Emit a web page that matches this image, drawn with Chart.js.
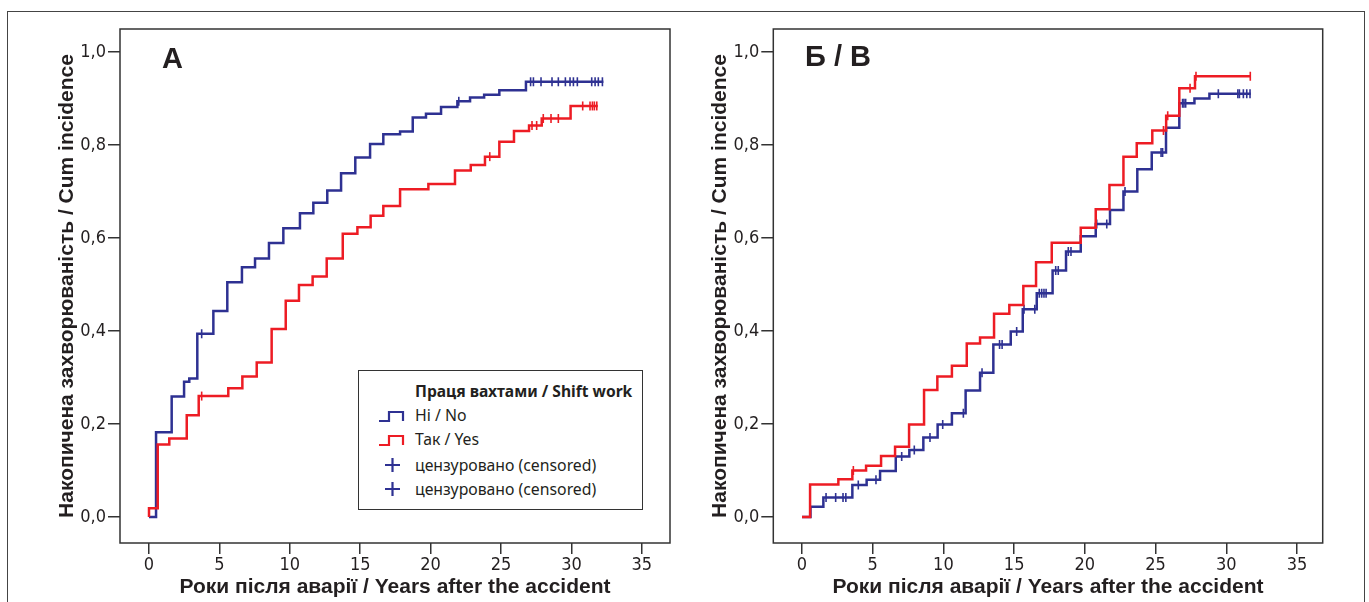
<!DOCTYPE html>
<html>
<head>
<meta charset="utf-8">
<script src="https://cdn.jsdelivr.net/npm/chart.js@4.4.1/dist/chart.umd.min.js"></script>
<style>
  html, body { margin: 0; padding: 0; background: #fff; }
  body { width: 1369px; height: 602px; position: relative; overflow: hidden; }
  .frame { position: absolute; left: 7px; top: 11px; width: 1358px; height: 700px; border: 1.5px solid #444; box-sizing: border-box; }
  canvas { position: absolute; top: 0; }
  .letter { position: absolute; font: bold 29px "Liberation Sans", Arial, sans-serif; color: #231f20; }
  .legend { position: absolute; left: 358px; top: 370px; width: 285px; height: 140px; border: 1.5px solid #333; box-sizing: border-box; background: #fff; font: 15.8px "Noto Sans", "Open Sans", sans-serif; color: #231f20; }
  .legend .row { position: absolute; left: 0; height: 22px; line-height: 22px; white-space: nowrap; }
  .legend .row span { position: absolute; left: 56px; }
  .legend .row svg { position: absolute; left: 18px; top: 3px; }
  .legend .title { font-weight: bold; font-size: 15.6px; }
</style>
</head>
<body>
<div class="frame"></div>
<canvas id="chartA" width="685" height="602" style="left:0;width:685px;height:602px"></canvas>
<canvas id="chartB" width="684" height="602" style="left:685px;width:684px;height:602px"></canvas>
<div class="letter" style="left:162px;top:42px">А</div>
<div class="letter" style="left:805px;top:40px">Б / В</div>
<div class="legend">
  <div class="row title" style="top:9px"><span>Праця вахтами / Shift work</span></div>
  <div class="row" style="top:33px">
    <svg width="30" height="16"><path d="M2 14 H12 V5 H26 V14" fill="none" stroke="#2e3192" stroke-width="2.2"/></svg>
    <span>Ні / No</span></div>
  <div class="row" style="top:57px">
    <svg width="30" height="16"><path d="M2 14 H12 V5 H26 V14" fill="none" stroke="#ed1c24" stroke-width="2.2"/></svg>
    <span>Так / Yes</span></div>
  <div class="row" style="top:83px">
    <svg width="30" height="16"><path d="M8 8 H23 M15.5 1 V15" fill="none" stroke="#2e3192" stroke-width="2.2"/></svg>
    <span>цензуровано (censored)</span></div>
  <div class="row" style="top:107px">
    <svg width="30" height="16"><path d="M8 8 H23 M15.5 1 V15" fill="none" stroke="#2e3192" stroke-width="2.2"/></svg>
    <span>цензуровано (censored)</span></div>
</div>
<script>
// panel A: shift work, cumulative incidence
const aNoTimes = [0, 0.5, 1.61, 2.49, 2.86, 3.43, 4.57, 5.56, 6.6, 7.53, 8.52, 9.54, 10.72, 11.67, 12.66, 13.64, 14.65, 15.7, 16.64, 17.83, 18.73, 19.67, 20.74, 21.9, 22.8, 23.8, 24.88, 26.77, 32.27];
const aNoVals = [0, 0.182, 0.259, 0.291, 0.298, 0.394, 0.443, 0.505, 0.537, 0.556, 0.589, 0.621, 0.653, 0.676, 0.702, 0.739, 0.773, 0.802, 0.823, 0.829, 0.859, 0.867, 0.882, 0.894, 0.902, 0.908, 0.918, 0.936, 0.936];
const aNoCensored = [3.74, 22.0, 27.1, 27.3, 27.84, 28.62, 29.07, 29.57, 29.9, 30.14, 30.42, 31.44, 31.68, 31.91, 32.2];

const aYesTimes = [0, 0, 0.62, 1.44, 2.68, 3.53, 5.63, 6.63, 7.65, 8.71, 9.71, 10.65, 11.62, 12.62, 13.76, 14.8, 15.74, 16.64, 17.83, 19.84, 21.73, 22.85, 23.86, 24.88, 25.92, 26.99, 27.89, 29.94, 31.87];
const aYesVals = [0, 0.019, 0.156, 0.169, 0.219, 0.26, 0.277, 0.302, 0.332, 0.404, 0.465, 0.499, 0.517, 0.556, 0.609, 0.623, 0.648, 0.669, 0.705, 0.716, 0.745, 0.757, 0.775, 0.807, 0.83, 0.842, 0.857, 0.884, 0.884];
const aYesCensored = [3.74, 24.2, 27.2, 27.53, 28.0, 28.55, 29.07, 30.8, 31.32, 31.49, 31.63, 31.8];

// panel Б / В
const bNoTimes = [0, 0.6, 1.51, 3.56, 4.57, 5.52, 6.63, 7.59, 8.58, 9.59, 10.6, 11.57, 12.59, 13.53, 14.76, 15.61, 16.6, 17.72, 18.67, 19.71, 20.77, 21.78, 22.73, 23.71, 24.73, 25.74, 26.68, 27.75, 28.81, 31.73];
const bNoVals = [0, 0.022, 0.042, 0.069, 0.08, 0.099, 0.13, 0.144, 0.171, 0.199, 0.223, 0.272, 0.31, 0.371, 0.399, 0.447, 0.481, 0.53, 0.571, 0.604, 0.63, 0.66, 0.7, 0.748, 0.784, 0.837, 0.89, 0.9, 0.91, 0.91];
const bNoCensored = [1.7, 2.38, 2.9, 3.1, 3.98, 5.23, 7.05, 7.94, 9.05, 9.95, 11.41, 12.73, 13.97, 14.15, 15.18, 15.7, 16.46, 16.78, 16.95, 17.11, 17.26, 17.94, 18.12, 18.83, 19.02, 20.84, 21.55, 22.84, 25.39, 25.5, 26.91, 27.01, 27.13, 29.44, 30.82, 30.93, 31.21, 31.45, 31.68];

const bYesTimes = [0, 0.57, 2.57, 3.56, 4.53, 5.59, 6.58, 7.57, 8.63, 9.57, 10.6, 11.65, 12.59, 13.58, 14.66, 15.65, 16.55, 17.66, 19.71, 20.77, 21.74, 22.73, 23.67, 24.77, 25.75, 26.68, 27.79, 31.73];
const bYesVals = [0, 0.07, 0.081, 0.1, 0.11, 0.131, 0.151, 0.199, 0.273, 0.302, 0.325, 0.373, 0.386, 0.437, 0.456, 0.497, 0.548, 0.59, 0.622, 0.662, 0.714, 0.775, 0.804, 0.831, 0.863, 0.922, 0.948, 0.948];
const bYesCensored = [3.63, 25.56, 25.86, 27.44, 27.86, 31.7];

const xTicks = [0, 5, 10, 15, 20, 25, 30, 35];
const yTicks = [0, 0.2, 0.4, 0.6, 0.8, 1.0];

const BLUE = '#2e3192';
const RED = '#ed1c24';
const tickFont = { family: "'Liberation Sans Narrow', 'DejaVu Sans Condensed', 'Liberation Sans', sans-serif", size: 18 };
const titleFont = { family: "'Liberation Sans', Arial, sans-serif", size: 21, weight: 'bold' };

function curve(times, vals) {
    return times.map((t, i) => ({ x: t, y: vals[i] }));
}

// censored marks sit on the step curve
function censorPoints(times, vals, cens) {
    return cens.map(c => {
        let v = vals[0];
        for (let i = 0; i < times.length; i++) {
            if (times[i] <= c) v = vals[i];
        }
        return { x: c, y: v };
    });
}

const boxPlugin = {
    id: 'box',
    afterDraw(chart) {
        const { ctx, chartArea: a } = chart;
        ctx.save();
        ctx.strokeStyle = '#333';
        ctx.lineWidth = 1.5;
        ctx.strokeRect(a.left, a.top, a.right - a.left, a.bottom - a.top);
        ctx.restore();
    }
};

function makeChart(id, sets, opts) {
    const datasets = [];
    sets.forEach(s => {
        datasets.push({
            data: curve(s.times, s.vals),
            borderColor: s.color,
            borderWidth: 2.5,
            stepped: true,
            showLine: true,
            pointRadius: 0,
            fill: false
        });
        datasets.push({
            data: censorPoints(s.times, s.vals, s.cens),
            borderColor: s.color,
            backgroundColor: s.color,
            showLine: false,
            pointStyle: 'line',
            rotation: 90,
            pointRadius: 4.5,
            pointBorderWidth: 1.6
        });
    });

    return new Chart(document.getElementById(id), {
        type: 'scatter',
        data: { datasets },
        options: {
            responsive: false,
            animation: false,
            layout: { padding: { top: 29, right: opts.padRight, left: 0, bottom: 0 } },
            plugins: { legend: { display: false }, tooltip: { enabled: false } },
            scales: {
                x: {
                    type: 'linear',
                    min: opts.xMin,
                    max: opts.xMax,
                    afterBuildTicks: scale => { scale.ticks = xTicks.map(v => ({ value: v })); },
                    afterFit: scale => { scale.height = 59; },
                    border: { display: false },
                    grid: { drawOnChartArea: false, drawTicks: true, tickLength: 11, color: '#333', lineWidth: 1.5 },
                    ticks: { font: tickFont, color: '#231f20', padding: 1, maxRotation: 0 },
                    title: {
                        display: true,
                        text: 'Роки після аварії / Years after the accident',
                        font: titleFont,
                        color: '#231f20',
                        padding: { top: 0, bottom: 2 }
                    }
                },
                y: {
                    type: 'linear',
                    min: -0.056,
                    max: 1.0495,
                    afterBuildTicks: scale => { scale.ticks = yTicks.map(v => ({ value: v })); },
                    afterFit: scale => { scale.width = opts.yWidth; },
                    border: { display: false },
                    grid: { drawOnChartArea: false, drawTicks: true, tickLength: 12, color: '#333', lineWidth: 1.5 },
                    ticks: {
                        font: tickFont,
                        color: '#231f20',
                        padding: 2,
                        callback: v => v.toFixed(1).replace('.', ',')
                    },
                    title: {
                        display: true,
                        text: 'Накопичена захворюваність / Cum incidence',
                        font: titleFont,
                        color: '#231f20',
                        padding: { top: opts.titlePad, bottom: 0 }
                    }
                }
            }
        },
        plugins: [boxPlugin]
    });
}

makeChart('chartA', [
    { times: aYesTimes, vals: aYesVals, cens: aYesCensored, color: RED },
    { times: aNoTimes, vals: aNoVals, cens: aNoCensored, color: BLUE }
], { xMin: -2.06, xMax: 37.0, padRight: 15, yWidth: 120, titlePad: 55 });

makeChart('chartB', [
    { times: bYesTimes, vals: bYesVals, cens: bYesCensored, color: RED },
    { times: bNoTimes, vals: bNoVals, cens: bNoCensored, color: BLUE }
], { xMin: -2.03, xMax: 36.82, padRight: 46.3, yWidth: 88.3, titlePad: 23 });
</script>
</body>
</html>
